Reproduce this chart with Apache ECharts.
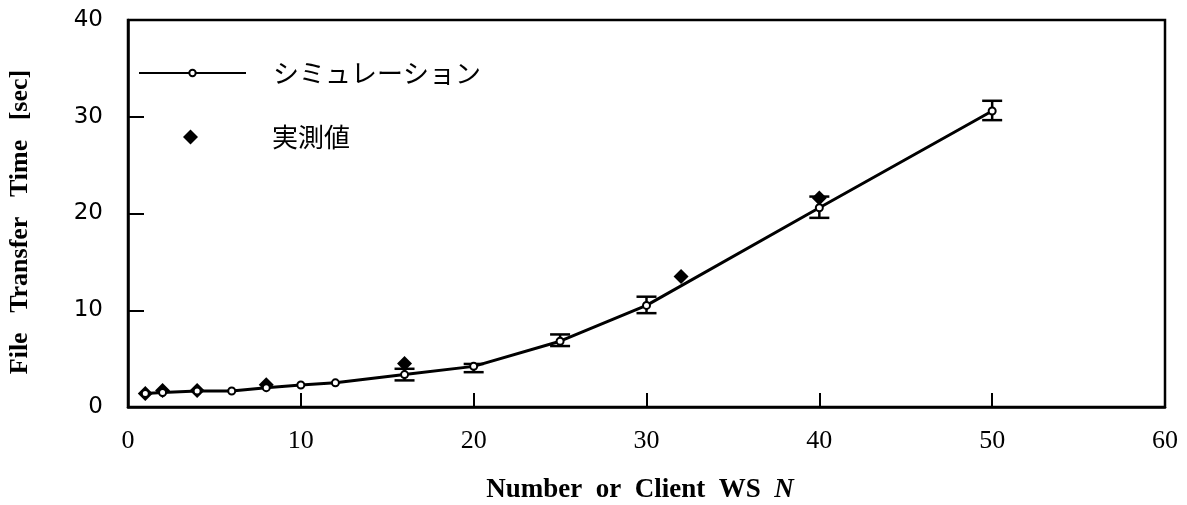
<!DOCTYPE html>
<html>
<head>
<meta charset="utf-8">
<script src="https://cdn.jsdelivr.net/npm/echarts@6/dist/echarts.min.js"></script>
<style>
  html, body { margin: 0; padding: 0; background: #ffffff; }
  #chart { width: 1187px; height: 505px; }
</style>
</head>
<body>
<div id="chart"></div>
<script>
// Simulation results (client count N -> transfer time in seconds)
const simN = [1, 2, 4, 6, 8, 10, 12, 16, 20, 25, 30, 40, 50];
const simTime = [1.4, 1.5, 1.65, 1.65, 2.0, 2.27, 2.5, 3.35, 4.2, 6.8, 10.5, 20.6, 30.6];

// Spread of the simulation runs
const errN = [16, 20, 25, 30, 40, 50];
const errLow = [2.75, 3.6, 6.3, 9.7, 19.55, 29.65];
const errHigh = [3.95, 4.45, 7.5, 11.4, 21.75, 31.65];

// Measured values
const measN = [1, 2, 4, 8, 16, 32, 40];
const measTime = [1.4, 1.7, 1.7, 2.3, 4.5, 13.5, 21.6];

const seriesNames = ['シミュレーション', '実測値'];
const xTitle = 'Number  or  Client  WS  ';
const xTitleVar = 'N';
const yTitle = 'File   Transfer   Time   [sec]';

const chart = echarts.init(document.getElementById('chart'), null, { renderer: 'canvas' });

const simData = simN.map((n, i) => [n, simTime[i]]);
const measData = measN.map((n, i) => [n, measTime[i]]);
const errData = errN.map((n, i) => [n, errLow[i], errHigh[i]]);

const legendText = {
  fontFamily: '"Noto Sans CJK JP", sans-serif',
  fontSize: 26, color: '#000'
};

chart.setOption({
  animation: false,
  backgroundColor: '#ffffff',
  grid: {
    left: 128, right: 22, top: 20, bottom: 98,
    show: true, borderColor: '#000', borderWidth: 2.5, backgroundColor: 'transparent'
  },
  legend: [
    {
      orient: 'vertical',
      left: 138, top: 60, padding: 0,
      itemWidth: 107, itemHeight: 8,
      data: [seriesNames[0]],
      lineStyle: { width: 2 },
      textStyle: Object.assign({ padding: [0, 0, 0, 22] }, legendText)
    },
    {
      orient: 'vertical',
      left: 183, top: 124, padding: 0,
      itemWidth: 15, itemHeight: 15,
      data: [seriesNames[1]],
      textStyle: Object.assign({ padding: [0, 0, 0, 69] }, legendText)
    }
  ],
  xAxis: {
    type: 'value', min: 0, max: 60, interval: 10,
    axisLine: { show: true, lineStyle: { color: '#000', width: 2.5 } },
    axisTick: { show: true, inside: true, length: 14, lineStyle: { color: '#000', width: 2 } },
    axisLabel: { margin: 21, fontFamily: '"Liberation Serif", serif', fontSize: 26, color: '#000' },
    splitLine: { show: false }
  },
  yAxis: {
    type: 'value', min: 0, max: 40, interval: 10,
    axisLine: { show: true, lineStyle: { color: '#000', width: 2.5 } },
    axisTick: { show: true, inside: true, length: 16, lineStyle: { color: '#000', width: 2 } },
    axisLabel: { margin: 25, fontFamily: '"DejaVu Sans", sans-serif', fontSize: 23, color: '#000' },
    splitLine: { show: false }
  },
  graphic: [
    {
      type: 'text', x: 640, y: 490,
      style: {
        text: '{b|' + xTitle + '}{i|' + xTitleVar + '}',
        align: 'center', verticalAlign: 'middle',
        rich: {
          b: { fontFamily: '"Liberation Serif", serif', fontWeight: 'bold', fontSize: 27, fill: '#000' },
          i: { fontFamily: '"Liberation Serif", serif', fontWeight: 'bold', fontStyle: 'italic', fontSize: 27, fill: '#000' }
        }
      }
    },
    {
      type: 'text', x: 20, y: 222, rotation: Math.PI / 2,
      style: {
        text: yTitle, align: 'center', verticalAlign: 'middle',
        fontFamily: '"Liberation Serif", serif', fontWeight: 'bold', fontSize: 26, fill: '#000'
      }
    }
  ],
  series: [
    {
      name: seriesNames[0],
      type: 'line',
      data: simData,
      z: 3,
      symbol: 'circle', symbolSize: 7,
      lineStyle: { color: '#000', width: 3 },
      itemStyle: { color: '#fff', borderColor: '#000', borderWidth: 2 }
    },
    {
      name: 'spread',
      type: 'custom',
      data: errData,
      z: 2,
      renderItem: function (params, api) {
        const x = api.value(0);
        const lo = api.coord([x, api.value(1)]);
        const hi = api.coord([x, api.value(2)]);
        const half = 10;
        const style = { stroke: '#000', lineWidth: 2.5 };
        return {
          type: 'group',
          children: [
            { type: 'line', shape: { x1: lo[0], y1: lo[1], x2: hi[0], y2: hi[1] }, style: style },
            { type: 'line', shape: { x1: lo[0] - half, y1: lo[1], x2: lo[0] + half, y2: lo[1] }, style: style },
            { type: 'line', shape: { x1: hi[0] - half, y1: hi[1], x2: hi[0] + half, y2: hi[1] }, style: style }
          ]
        };
      }
    },
    {
      name: seriesNames[1],
      type: 'scatter',
      data: measData,
      z: 1,
      symbol: 'diamond', symbolSize: 15,
      itemStyle: { color: '#000', opacity: 1 }
    }
  ]
});
</script>
</body>
</html>
